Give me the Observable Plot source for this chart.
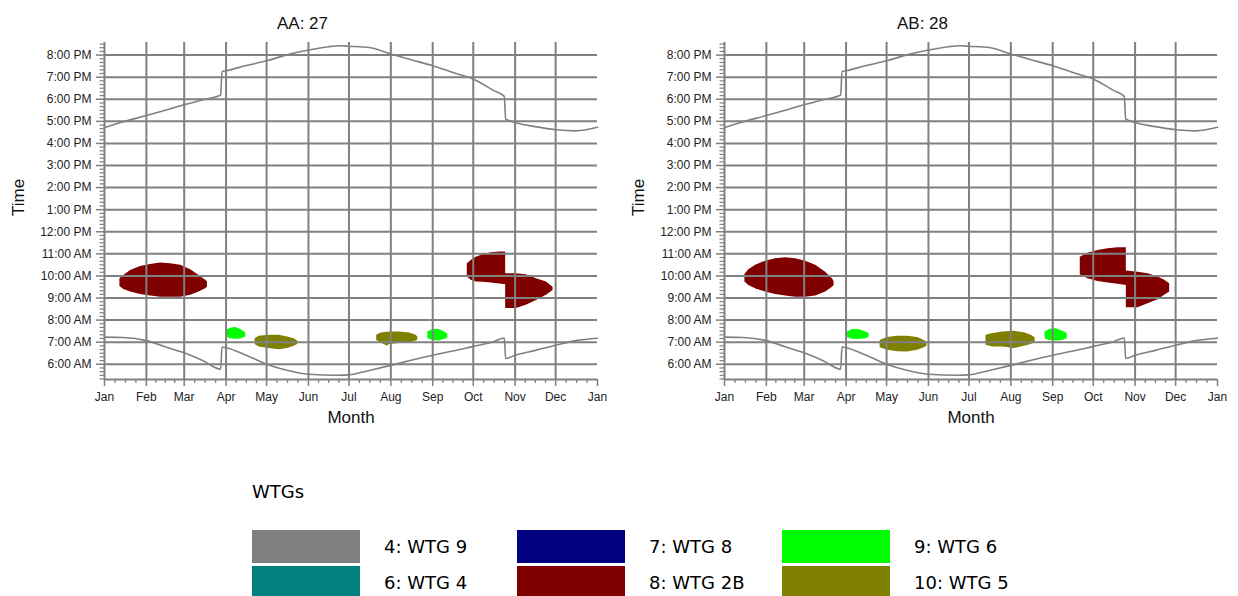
<!DOCTYPE html>
<html>
<head>
<meta charset="utf-8">
<script src="https://cdn.jsdelivr.net/npm/d3@7"></script>
<script src="https://cdn.jsdelivr.net/npm/@observablehq/plot@0.6"></script>
<style>
  html, body { margin: 0; padding: 0; background: #fff; }
  #wrap { position: relative; width: 1238px; height: 596px; overflow: hidden; font-family: "Liberation Sans", Arial, sans-serif; }
  .panel { position: absolute; top: 0; }
  .legend { position: absolute; left: 0; top: 0; font-family: "DejaVu Sans", Verdana, sans-serif; font-size: 18px; color: #000; }
  .lg-title { position: absolute; left: 252px; top: 481px; }
  .sw { position: absolute; width: 108px; height: 33px; }
  .lt { position: absolute; line-height: 33px; white-space: nowrap; }
</style>
</head>
<body>
<div id="wrap"></div>
<script>
// ---------- axis data ----------
const monthLabels = ["Jan","Feb","Mar","Apr","May","Jun","Jul","Aug","Sep","Oct","Nov","Dec","Jan"];
const monthStarts = [0,31,59,90,120,151,181,212,243,273,304,334,365];
const hourTicks = [6,7,8,9,10,11,12,13,14,15,16,17,18,19,20];
const hourLabels = ["6:00 AM","7:00 AM","8:00 AM","9:00 AM","10:00 AM","11:00 AM","12:00 PM",
  "1:00 PM","2:00 PM","3:00 PM","4:00 PM","5:00 PM","6:00 PM","7:00 PM","8:00 PM"];
const titles = ["AA: 27", "AB: 28"];

// ---------- sun lines [day of year, hour] ----------
const sunset = [[0,16.72],[14,16.98],[31,17.26],[45,17.50],[59,17.75],[73,17.98],[86,18.19],[87,19.26],
  [90,19.29],[105,19.53],[120,19.74],[135,20.01],[151,20.23],[166,20.38],[175,20.42],[181,20.40],
  [196,20.34],[212,20.05],[227,19.79],[243,19.52],[258,19.21],[273,18.92],[288,18.40],[296,18.13],
  [297,17.11],[304,16.95],[319,16.76],[334,16.62],[349,16.57],[365,16.73]];
const sunrise = [[0,7.23],[14,7.21],[31,7.07],[45,6.79],[59,6.52],[73,6.16],[86,5.78],[87,6.78],
  [90,6.75],[105,6.41],[120,6.00],[135,5.73],[151,5.55],[172,5.50],[181,5.52],[196,5.72],
  [212,5.95],[227,6.18],[243,6.41],[258,6.60],[273,6.81],[288,7.02],[296,7.19],[297,6.26],
  [304,6.41],[319,6.63],[334,6.86],[349,7.07],[365,7.18]];

// ---------- shadow regions [day, from hour, to hour] ----------
// Panel AA: 27
const aaWtg2bWinter = [[11.4,9.52,9.87],[14.3,9.38,10.02],[19.3,9.27,10.25],[26.7,9.16,10.43],
  [34.1,9.09,10.52],[41.5,9.04,10.58],[49.0,9.04,10.55],[56.4,9.04,10.48],[63.8,9.12,10.28],
  [70.0,9.27,10.02],[74.9,9.42,9.80],[76.2,9.49,9.72]];
const aaWtg2bAutumn = [[268.6,9.95,10.55],[271.5,9.80,10.70],[275.2,9.72,10.85],[280.2,9.71,10.96],
  [286.4,9.68,11.05],[292.5,9.63,11.08],[297.0,9.60,11.08],[297.01,8.52,10.10],[304.9,8.52,10.10],
  [312.3,8.67,10.05],[319.8,8.89,9.87],[327.2,9.12,9.72],[332.1,9.34,9.49]];
const aaWtg6Spring = [[90.5,7.23,7.54],[93.5,7.16,7.63],[97.2,7.13,7.66],[100.9,7.14,7.57],[104.6,7.23,7.41]];
const aaWtg5Spring = [[111.5,6.90,7.16],[114.5,6.78,7.27],[121.9,6.71,7.31],[129.3,6.66,7.31],
  [135.5,6.71,7.23],[140.4,6.81,7.16],[143.0,6.90,7.05]];
const aaWtg5Summer = [[201.5,7.08,7.31],[204.8,6.96,7.41],[209.5,6.82,7.45],[211.0,6.90,7.46],
  [218.3,6.94,7.46],[225.8,6.96,7.41],[230.7,7.05,7.31],[232.0,7.10,7.23]];
const aaWtg6Summer = [[239.4,7.16,7.46],[243.1,7.08,7.57],[248.0,7.05,7.57],[253.0,7.16,7.41],[254.2,7.20,7.35]];
// Panel AB: 28
const abWtg2bWinter = [[15.1,9.72,10.07],[18.0,9.57,10.28],[23.0,9.42,10.48],[30.4,9.27,10.67],
  [37.8,9.16,10.78],[45.3,9.09,10.82],[52.7,9.04,10.78],[60.1,9.04,10.67],[67.5,9.09,10.48],
  [74.9,9.27,10.17],[79.9,9.49,9.87],[81.1,9.55,9.75]];
const abWtg2bAutumn = [[263.4,10.05,10.85],[269.1,9.87,11.03],[276.5,9.75,11.15],[283.9,9.68,11.23],
  [291.3,9.62,11.28],[297.5,9.57,11.28],[297.51,8.56,10.22],[306.2,8.56,10.17],[313.6,8.74,10.10],
  [321.0,8.92,9.95],[325.9,9.12,9.80],[329.6,9.27,9.65]];
const abWtg6Spring = [[91.0,7.21,7.46],[94.7,7.13,7.57],[99.6,7.12,7.57],[104.6,7.16,7.46],[107.1,7.23,7.39]];
const abWtg5Spring = [[115.2,6.75,7.08],[120.7,6.63,7.21],[128.1,6.57,7.27],[135.5,6.56,7.27],
  [143.0,6.63,7.21],[147.9,6.75,7.08],[149.9,6.81,7.01]];
const abWtg5Summer = [[193.6,6.86,7.31],[198.6,6.78,7.39],[206.0,6.78,7.46],[214.6,6.71,7.49],
  [222.0,6.81,7.43],[227.0,6.90,7.31],[230.0,6.97,7.20]];
const abWtg6Summer = [[237.4,7.16,7.46],[240.6,7.08,7.57],[245.6,7.05,7.61],[250.5,7.08,7.50],[253.7,7.16,7.39]];

// ---------- legend ----------
const legendNames = ["4: WTG 9","7: WTG 8","9: WTG 6","6: WTG 4","8: WTG 2B","10: WTG 5"];
const legendColors = ["#808080","#000080","#00ff00","#008080","#800000","#808000"];
const C = Object.fromEntries(legendNames.map((n, i) => [n, legendColors[i]]));

// ---------- layout ----------
const W = 620, H = 440, mL = 104, mR = 23, mT = 42, mB = 61;
const yDom = [5.31, 20.57], xDom = [0, 365];
const pxH = (H - mT - mB) / (yDom[1] - yDom[0]);
const pxD = (W - mL - mR) / (xDom[1] - xDom[0]);
const grid = "#808080";

const minorX = [];
for (let i = 0; i < 12; i++) {
  const a = monthStarts[i], b = monthStarts[i + 1];
  for (let q = 1; q < 4; q++) minorX.push(a + (b - a) * q / 4);
}
const minorY = d3.range(32, 124).map(k => k / 6).filter(h => h > yDom[0] && h < yDom[1] && Math.abs(h - Math.round(h)) > 1e-6);

function blob(data, color) {
  return Plot.areaY(data, {x: d => d[0], y1: d => d[1], y2: d => d[2], fill: color, curve: "linear"});
}

function panel(title, regions) {
  return Plot.plot({
    width: W, height: H, marginLeft: mL, marginRight: mR, marginTop: mT, marginBottom: mB,
    style: {fontFamily: "'Liberation Sans', Arial, sans-serif", fontSize: "12px", color: "#000", background: "#fff", overflow: "visible"},
    x: {domain: xDom, axis: null},
    y: {domain: yDom, axis: null},
    marks: [
      ...regions.map(([d, c]) => blob(d, c)),
      Plot.ruleX(monthStarts.slice(1, 12), {stroke: grid, strokeWidth: 2}),
      Plot.ruleY(hourTicks, {x1: () => xDom[0], x2: () => xDom[1], stroke: grid, strokeWidth: 2}),
      Plot.ruleX([xDom[0]], {stroke: grid, strokeWidth: 2}),
      Plot.ruleY([yDom[0]], {x1: () => xDom[0], x2: () => xDom[1], stroke: grid, strokeWidth: 2}),
      // ticks
      Plot.ruleX(monthStarts, {y1: () => yDom[0], y2: () => yDom[0] - 7 / pxH, stroke: grid, strokeWidth: 1.5}),
      Plot.ruleX(minorX, {y1: () => yDom[0], y2: () => yDom[0] - 4 / pxH, stroke: grid, strokeWidth: 1.3}),
      Plot.ruleY(hourTicks, {x1: () => xDom[0], x2: () => xDom[0] - 8 / pxD, stroke: grid, strokeWidth: 1.5}),
      Plot.ruleY(minorY, {x1: () => xDom[0], x2: () => xDom[0] - 4.5 / pxD, stroke: grid, strokeWidth: 1.2}),
      // sun lines
      Plot.line(sunset, {x: d => d[0], y: d => d[1], stroke: grid, strokeWidth: 1.6, curve: "monotone-x"}),
      Plot.line(sunrise, {x: d => d[0], y: d => d[1], stroke: grid, strokeWidth: 1.6, curve: "monotone-x"}),
      // tick labels
      Plot.text(monthStarts, {x: d => d, text: (d, i) => monthLabels[i], frameAnchor: "bottom", dy: 21, fill: "#222"}),
      Plot.text(hourTicks, {y: d => d, text: (d, i) => hourLabels[i], frameAnchor: "left", textAnchor: "end", dx: -13, fill: "#222"}),
      // titles
      Plot.text([title], {frameAnchor: "top", dy: -26, dx: -48.5, fontSize: 17, fill: "#111"}),
      Plot.text(["Month"], {frameAnchor: "bottom", dy: 43, fontSize: 17, fill: "#111"}),
      Plot.text(["Time"], {frameAnchor: "left", dx: -86, dy: 5, rotate: -90, fontSize: 17, fill: "#111"})
    ]
  });
}

const wrap = document.getElementById("wrap");
const p1 = panel(titles[0], [
  [aaWtg2bWinter, C["8: WTG 2B"]], [aaWtg2bAutumn, C["8: WTG 2B"]],
  [aaWtg6Spring, C["9: WTG 6"]], [aaWtg6Summer, C["9: WTG 6"]],
  [aaWtg5Spring, C["10: WTG 5"]], [aaWtg5Summer, C["10: WTG 5"]]
]);
const p2 = panel(titles[1], [
  [abWtg2bWinter, C["8: WTG 2B"]], [abWtg2bAutumn, C["8: WTG 2B"]],
  [abWtg6Spring, C["9: WTG 6"]], [abWtg6Summer, C["9: WTG 6"]],
  [abWtg5Spring, C["10: WTG 5"]], [abWtg5Summer, C["10: WTG 5"]]
]);
p1.classList.add("panel"); p1.style.left = "0px";
p2.classList.add("panel"); p2.style.left = "620px";
wrap.appendChild(p1);
wrap.appendChild(p2);

// legend
const lg = document.createElement("div");
lg.className = "legend";
lg.innerHTML = `<div class="lg-title">WTGs</div>`;
legendNames.forEach((name, i) => {
  const col = i % 3, row = Math.floor(i / 3);
  const left = 252 + col * 265, top = 530 + row * 36;
  lg.innerHTML += `<div class="sw" style="left:${left}px;top:${top}px;background:${legendColors[i]}"></div>` +
    `<div class="lt" style="left:${left + 132}px;top:${top}px">${name}</div>`;
});
wrap.appendChild(lg);
</script>
</body>
</html>
